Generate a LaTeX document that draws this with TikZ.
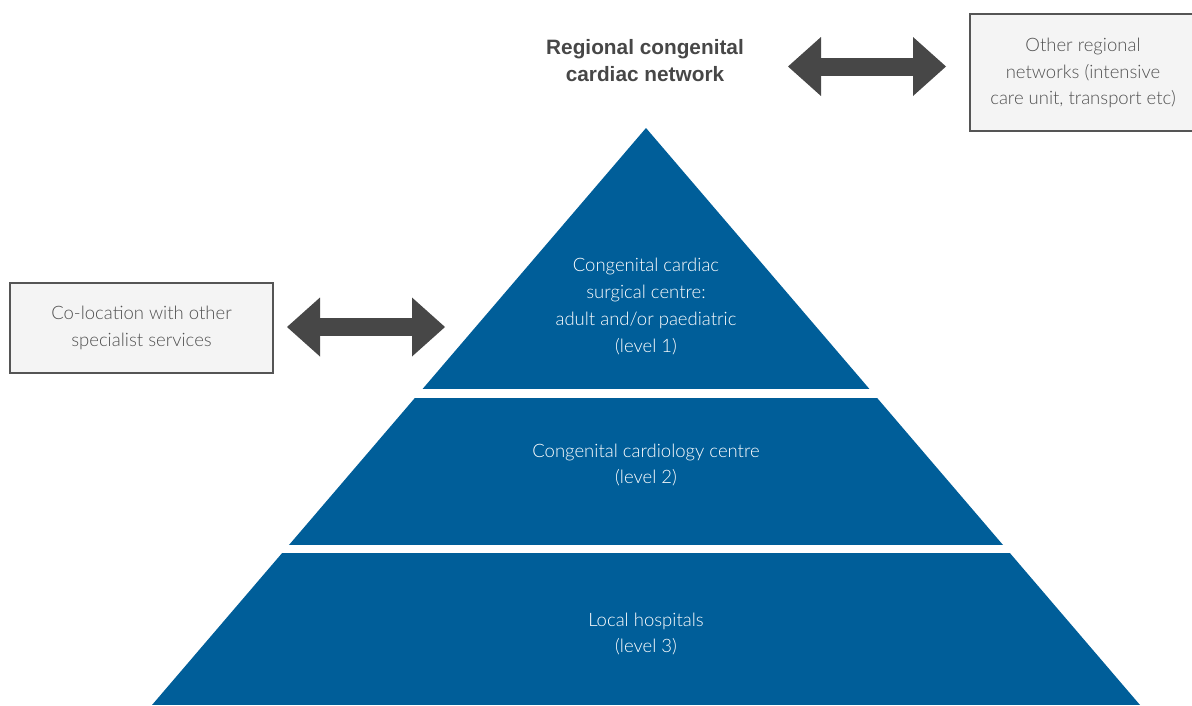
\documentclass[tikz,border=0pt]{standalone}
\usepackage{fontspec}
\setmainfont{Liberation Sans}
\newfontfamily\thinfont{Lato Light}
\usetikzlibrary{arrows.meta}

\definecolor{tierblue}{HTML}{005E99}
\definecolor{arrowgrey}{HTML}{474747}
\definecolor{boxline}{HTML}{555555}
\definecolor{boxfill}{HTML}{F4F4F4}
\definecolor{textgrey}{HTML}{505050}

\begin{document}
\begin{tikzpicture}[x=1pt, y=-1pt]
    \tikzstyle{body}=[font=\thinfont\fontsize{18.5}{26.7}\selectfont, align=center, inner sep=0pt]
    \tikzstyle{tier label}=[body, text=white]
    \tikzstyle{side box}=[draw=boxline, fill=boxfill, line width=2pt]
    \tikzstyle{box label}=[body, text=textgrey]
    \tikzstyle{link}=[draw=arrowgrey, line width=18pt,
        {Triangle[length=33pt,width=59pt,line width=0pt]}-{Triangle[length=33pt,width=59pt,line width=0pt]}]

    \useasboundingbox (0,0) rectangle (1192,705);

    % pyramid: one triangle cut into three tiers by white gaps
    \begin{scope}
    \clip (646,128) -- (1140,705) -- (152,705) -- cycle;
    \foreach \top/\bot in {128/389, 398/545, 553/705}
    \fill [tierblue] (140,\top) rectangle (1150,\bot);
    \end{scope}

    \node [tier label] (level-1) at (646,306.5)
    {Congenital cardiac\\surgical centre:\\adult and/or paediatric\\(level 1)};
    \node [tier label] (level-2) at (646,465)
    {Congenital cardiology centre\\(level 2)};
    \node [tier label] (level-3) at (646,634)
    {Local hospitals\\(level 3)};

    % network title and the side boxes
    \node [font=\bfseries\fontsize{20.8}{27}\selectfont, align=center, text=arrowgrey] (network)
    at (645,60.5) {Regional congenital\\cardiac network};

    \node [side box, minimum width=226pt, minimum height=117pt] (other-box) at (1083,72.5) {};
    \node [box label] (other) at (1083,73) {Other regional\\networks (intensive\\care unit, transport etc)};

    \node [side box, minimum width=263pt, minimum height=90pt] (coloc-box) at (141.5,328) {};
    \node [box label] (coloc) at (coloc-box.center) {Co-location with other\\specialist services};

    % double arrows
    \coordinate (top-west) at (788,66.5);
    \coordinate (top-east) at (946,66.5);
    \coordinate (side-west) at (287,327);
    \coordinate (side-east) at (445,327);
    \draw [link] (top-west) -- (top-east);
    \draw [link] (side-west) -- (side-east);

\end{tikzpicture}
\end{document}
